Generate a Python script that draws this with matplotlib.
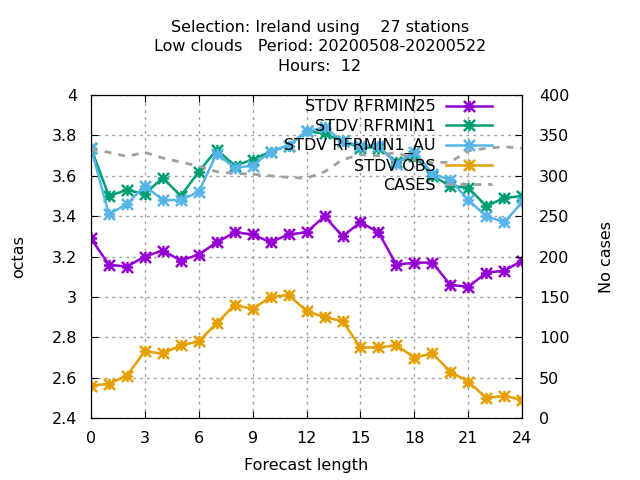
import matplotlib
matplotlib.use('Agg')
from matplotlib import pyplot as plt
from matplotlib.path import Path

# forecast length (hours)
hours = list(range(0, 25))

stdv_rfrmin25 = [3.29, 3.16, 3.15, 3.20, 3.23, 3.18, 3.21, 3.27, 3.32, 3.31, 3.27, 3.31, 3.32,
                 3.40, 3.30, 3.37, 3.32, 3.16, 3.17, 3.17, 3.06, 3.05, 3.12, 3.13, 3.18]
stdv_rfrmin1 = [3.74, 3.50, 3.53, 3.51, 3.59, 3.50, 3.62, 3.73, 3.65, 3.68, 3.72, 3.75, 3.82,
                3.81, 3.77, 3.74, 3.74, 3.67, 3.70, 3.60, 3.55, 3.54, 3.45, 3.49, 3.50]
stdv_rfrmin1_au = [3.74, 3.41, 3.46, 3.55, 3.48, 3.48, 3.52, 3.71, 3.64, 3.65, 3.72, 3.75, 3.82,
                   3.84, 3.77, 3.75, 3.75, 3.66, 3.72, 3.61, 3.58, 3.48, 3.40, 3.37, 3.47]
stdv_obs = [2.56, 2.57, 2.61, 2.73, 2.72, 2.76, 2.78, 2.87, 2.96, 2.94, 3.00, 3.01, 2.93,
            2.90, 2.88, 2.75, 2.75, 2.76, 2.70, 2.72, 2.63, 2.58, 2.50, 2.51, 2.49]
cases = [333, 329, 324, 329, 322, 317, 312, 305, 303, 302, 300, 298, 297,
         305, 320, 326, 325, 329, 320, 316, 317, 331, 334, 336, 334]

plt.rcParams['font.family'] = 'DejaVu Sans'
plt.rcParams['font.size'] = 11.5

# gnuplot style point (plus + cross)
star = Path([(-1, 0), (1, 0), (0, -1), (0, 1), (-1, -1), (1, 1), (-1, 1), (1, -1)],
            [Path.MOVETO, Path.LINETO] * 4)

fig = plt.figure(figsize=(6.4, 4.8), dpi=100)
ax = fig.add_axes([0.142, 0.129, 0.674, 0.673])
ax2 = ax.twinx()

mk = dict(marker=star, markersize=8, markeredgewidth=1.8, linewidth=1.8)
l1, = ax.plot(hours, stdv_rfrmin25, color='#9400d3', label='STDV RFRMIN25', **mk)
l2, = ax.plot(hours, stdv_rfrmin1, color='#009e73', label='STDV RFRMIN1', **mk)
l3, = ax.plot(hours, stdv_rfrmin1_au, color='#56b4e9', label='STDV RFRMIN1_AU', **mk)
l4, = ax.plot(hours, stdv_obs, color='#e69f00', label='STDV OBS', **mk)
l5, = ax2.plot(hours, cases, color='#a0a0a0', linestyle=(0, (2.5, 2.5)), linewidth=2, label='CASES')

ax.set_xlim(0, 24)
ax.set_ylim(2.4, 4)
ax2.set_ylim(0, 400)
ax.set_xticks(range(0, 25, 3))
ax.set_yticks([2.4, 2.6, 2.8, 3.0, 3.2, 3.4, 3.6, 3.8, 4.0])
ax.set_yticklabels(['2.4', '2.6', '2.8', '3', '3.2', '3.4', '3.6', '3.8', '4'])
ax2.set_yticks(range(0, 401, 50))

ax.tick_params(axis='x', direction='in', top=True, length=5, pad=9)
ax.tick_params(axis='y', direction='in', length=5, pad=10)
ax2.tick_params(direction='in', length=5, pad=12)
ax.grid(color='#a0a0a0', linestyle=(0, (2, 3)), linewidth=1)

ax.set_xlabel('Forecast length', labelpad=9)
ax.set_ylabel('octas', labelpad=18)
ax2.set_ylabel('No cases', labelpad=21)
fig.text(0.5, 0.958, 'Selection: Ireland using    27 stations\nLow clouds   Period: 20200508-20200522\nHours:  12',
         ha='center', va='top', linespacing=1.35)

ax2.legend(handles=[l1, l2, l3, l4, l5], loc='upper right', frameon=False, markerfirst=False,
           handlelength=2.9, handletextpad=0.65, labelspacing=0.27, borderaxespad=0,
           bbox_to_anchor=(0.945, 1.006))

plt.savefig('out.png')
